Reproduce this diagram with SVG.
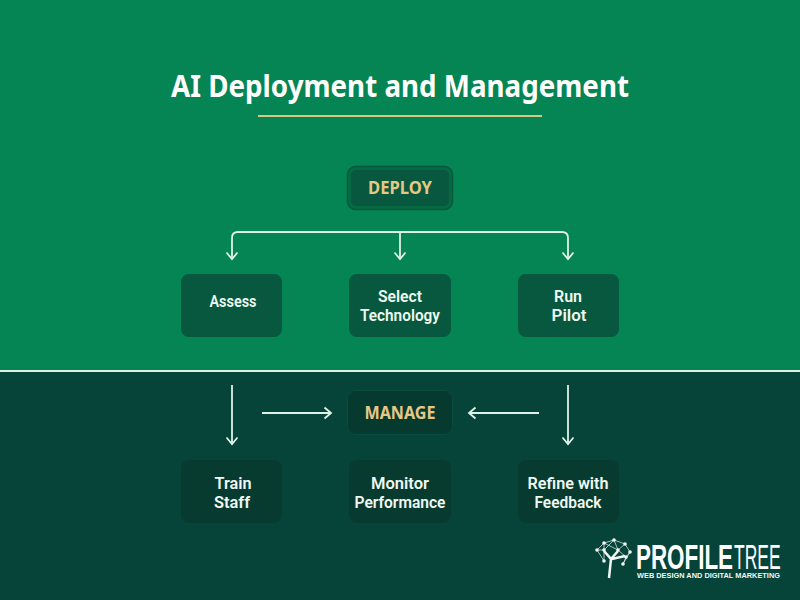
<svg xmlns="http://www.w3.org/2000/svg" width="800" height="600" viewBox="0 0 800 600">
<defs>
<marker id="arr" viewBox="0 0 14 14" refX="12" refY="7" markerWidth="14" markerHeight="14" markerUnits="userSpaceOnUse" orient="auto"><path d="M5.500 1.500 L12 7 L5.500 12.500" fill="none" stroke="#dff2e8" stroke-width="1.800"/></marker>
</defs>
<style>
text{font-family:"Noto Sans","Liberation Sans",sans-serif;text-anchor:middle}
.box{fill:#07583e}
.box2{fill:#073b30}
.lbl{font-family:Roboto,"Liberation Sans",sans-serif;font-size:16.500px;font-weight:600;fill:#f0f8f2}
.head{font-size:18px;font-weight:700;fill:#e6c886}
.c{fill:none;stroke:#dff2e8;stroke-width:1.800}
.a{marker-end:url(#arr)}
.t{stroke:#e9f3ee;stroke-width:.7;fill:none}
.logo{font-family:"Liberation Sans",sans-serif;text-anchor:start}
</style>
<rect width="800" height="371" fill="#058454"/>
<rect y="371" width="800" height="229" fill="#06443a"/>
<rect y="370" width="800" height="2" fill="#dcefe4"/>
<g id="title">
<text x="400" y="97" font-size="31" font-weight="700" fill="#fff" textLength="458" lengthAdjust="spacingAndGlyphs">AI Deployment and Management</text>
<rect x="258" y="115" width="284" height="2" fill="#d8c77f"/>
</g>
<g id="connectors">
<path class="c a" d="M400 232H238Q232 232 232 238V259"/>
<path class="c a" d="M400 232H562Q568 232 568 238V259"/>
<path class="c a" d="M400 232V259"/>
<path class="c a" d="M232 385V444"/>
<path class="c a" d="M262 413H331"/>
<path class="c a" d="M539 413H469"/>
<path class="c a" d="M568 385V444"/>
</g>
<g id="deploy">
<rect x="347.500" y="166.500" width="105" height="43" rx="8" fill="#066b45" stroke="#07583e" stroke-width="1.500"/>
<rect x="351" y="170" width="98" height="36" rx="5" fill="#07583e"/>
<text class="head" x="400" y="194" textLength="64" lengthAdjust="spacingAndGlyphs">DEPLOY</text>
</g>
<g id="assess">
<rect class="box" x="181" y="274" width="101" height="63" rx="8"/>
<text class="lbl" x="233" y="307" textLength="47" lengthAdjust="spacingAndGlyphs">Assess</text>
</g>
<g id="select">
<rect class="box" x="349" y="274" width="102" height="63" rx="8"/>
<text class="lbl" x="400" y="302" textLength="44" lengthAdjust="spacingAndGlyphs">Select</text>
<text class="lbl" x="400" y="321" textLength="80" lengthAdjust="spacingAndGlyphs">Technology</text>
</g>
<g id="pilot">
<rect class="box" x="518" y="274" width="101" height="63" rx="8"/>
<text class="lbl" x="568" y="302" textLength="28" lengthAdjust="spacingAndGlyphs">Run</text>
<text class="lbl" x="569" y="321" textLength="35" lengthAdjust="spacingAndGlyphs">Pilot</text>
</g>
<g id="manage">
<rect x="347.500" y="390.500" width="105" height="44" rx="8" fill="#063a2f" stroke="#084d3f" stroke-width="1"/>
<text class="head" x="400" y="419" textLength="71" lengthAdjust="spacingAndGlyphs">MANAGE</text>
</g>
<g id="train">
<rect class="box2" x="181" y="460" width="101" height="63" rx="8"/>
<text class="lbl" x="233" y="489" textLength="37" lengthAdjust="spacingAndGlyphs">Train</text>
<text class="lbl" x="232" y="508" textLength="36" lengthAdjust="spacingAndGlyphs">Staff</text>
</g>
<g id="monitor">
<rect class="box2" x="349" y="460" width="102" height="63" rx="8"/>
<text class="lbl" x="400" y="489" textLength="58" lengthAdjust="spacingAndGlyphs">Monitor</text>
<text class="lbl" x="400" y="508" textLength="91" lengthAdjust="spacingAndGlyphs">Performance</text>
</g>
<g id="refine">
<rect class="box2" x="518" y="460" width="101" height="63" rx="8"/>
<text class="lbl" x="568" y="489" textLength="81" lengthAdjust="spacingAndGlyphs">Refine with</text>
<text class="lbl" x="568" y="508" textLength="67" lengthAdjust="spacingAndGlyphs">Feedback</text>
</g>
<g id="logo">
<path d="M609 578L611 559 604 551M611 559L618 551M612 559L625 556" stroke="#f2f7f4" stroke-width="2.500" fill="none"/>
<path class="t" d="M597 550L604 543 614 540 625 544 630 552 626 557 618 550 614 540M604 543L604 550 597 550M604 543L618 550M625 544L618 550M597 550L604 561 604 550M630 552L623 564 626 557M614 540L604 550"/>
<g fill="#f2f7f4"><circle cx="597" cy="550" r="1.800"/><circle cx="604" cy="543" r="1.800"/><circle cx="614" cy="540" r="1.800"/><circle cx="625" cy="544" r="1.800"/><circle cx="630" cy="552" r="1.800"/><circle cx="618" cy="550" r="1.800"/><circle cx="604" cy="550" r="1.800"/><circle cx="626" cy="557" r="1.800"/><circle cx="604" cy="561" r="1.800"/><circle cx="623" cy="564" r="1.800"/></g>
<text class="logo" transform="translate(636 569) scale(.64 1)" font-size="35" font-weight="700" fill="#fff">PROFILE</text>
<text class="logo" transform="translate(734 569) scale(.5 1)" font-size="35" font-weight="400" fill="#fff">TREE</text>
<text class="logo" transform="translate(637 578) scale(.985 1)" font-size="7.500" font-weight="700" fill="#f2f7f4">WEB DESIGN AND DIGITAL MARKETING</text>
</g>
</svg>
